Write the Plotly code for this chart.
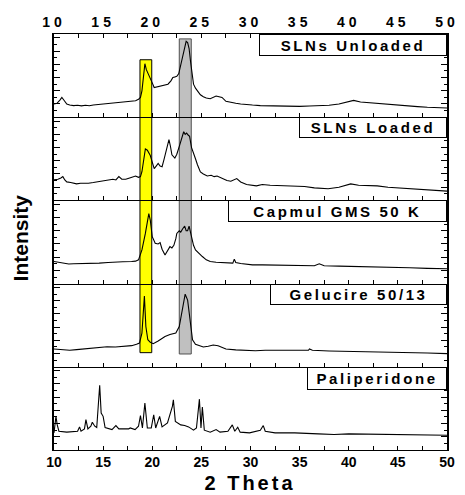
import plotly.graph_objects as go
from plotly.subplots import make_subplots

# ---------------- data ----------------
series_names = ["SLNs Unloaded", "SLNs Loaded", "Capmul GMS 50 K", "Gelucire 50/13", "Paliperidone"]

slns_unloaded = [
    (10.0, 1.0), (10.3, 1.05), (10.6, 1.3), (10.8, 1.5), (11.0, 1.3), (11.3, 1.0), (11.6, 0.92),
    (12.0, 0.88), (12.4, 0.9), (12.8, 0.86), (13.2, 0.9), (13.6, 0.87), (14.0, 0.92), (14.4, 0.95),
    (14.8, 0.97), (15.2, 1.0), (15.6, 1.02), (16.0, 1.05), (16.4, 1.08), (16.8, 1.1), (17.2, 1.12),
    (17.6, 1.15), (18.0, 1.2), (18.3, 1.25), (18.6, 1.35), (18.8, 1.5), (18.95, 2.0), (19.1, 3.0),
    (19.25, 4.05), (19.4, 3.6), (19.6, 3.3), (19.8, 3.0), (20.0, 2.6), (20.2, 2.25), (20.5, 2.3),
    (20.9, 2.35), (21.3, 2.45), (21.6, 2.5), (21.9, 2.75), (22.1, 3.0), (22.3, 3.05), (22.5, 3.1),
    (22.7, 3.3), (22.9, 3.9), (23.1, 4.7), (23.3, 5.3), (23.45, 5.75), (23.6, 5.65), (23.75, 5.2),
    (23.9, 4.2), (24.05, 3.3), (24.2, 2.5), (24.4, 2.2), (24.6, 2.0), (24.9, 1.7), (25.2, 1.55),
    (25.5, 1.45), (25.9, 1.4), (26.2, 1.5), (26.5, 1.6), (26.8, 1.55), (27.1, 1.5), (27.5, 1.2),
    (28.0, 1.1), (28.5, 1.05), (29.0, 1.0), (29.5, 0.95), (30.2, 0.92), (31.0, 0.88), (32.0, 0.86),
    (33.0, 0.85), (34.0, 0.8), (35.0, 0.82), (36.0, 0.85), (37.0, 0.88), (38.0, 0.9), (39.0, 1.0),
    (40.0, 1.15), (40.5, 1.27), (41.2, 1.15), (42.0, 1.1), (43.0, 1.0), (44.0, 0.95), (45.0, 0.88),
    (46.0, 0.85), (47.0, 0.8), (48.0, 0.75), (49.0, 0.75), (50.0, 0.7),
]

slns_loaded = [
    (10.0, 1.55), (10.4, 1.6), (10.7, 1.7), (10.9, 1.8), (11.1, 1.55), (11.3, 1.4), (11.7, 1.35),
    (12.0, 1.3), (12.3, 1.25), (12.7, 1.3), (13.0, 1.28), (13.5, 1.3), (14.0, 1.35), (14.5, 1.4),
    (15.0, 1.45), (15.3, 1.5), (15.6, 1.55), (16.0, 1.6), (16.3, 1.55), (16.6, 1.8), (16.9, 1.6),
    (17.3, 1.6), (17.7, 1.7), (18.0, 1.75), (18.3, 1.85), (18.6, 1.75), (18.8, 1.8), (18.95, 2.17),
    (19.1, 3.0), (19.3, 3.9), (19.5, 3.8), (19.8, 3.4), (20.0, 2.9), (20.2, 2.4), (20.4, 2.6),
    (20.6, 2.8), (20.8, 2.6), (21.0, 2.55), (21.2, 3.1), (21.4, 3.7), (21.7, 4.6), (21.85, 4.1),
    (22.0, 3.45), (22.3, 3.2), (22.5, 3.5), (22.8, 4.2), (23.0, 4.7), (23.2, 5.2), (23.35, 5.0),
    (23.5, 5.1), (23.65, 4.95), (23.8, 4.85), (24.0, 4.0), (24.2, 3.5), (24.4, 3.15), (24.6, 2.7),
    (24.9, 2.15), (25.2, 2.0), (25.6, 1.85), (26.0, 1.9), (26.3, 1.8), (26.6, 1.85), (27.0, 1.7),
    (27.6, 1.5), (28.0, 1.45), (28.6, 1.65), (29.0, 1.4), (29.6, 1.2), (30.6, 1.1), (31.2, 1.2),
    (32.0, 1.15), (33.0, 1.12), (34.5, 1.1), (35.5, 1.05), (36.5, 0.95), (37.9, 0.88), (39.0, 1.0),
    (40.2, 1.25), (41.0, 1.15), (42.0, 1.12), (42.9, 1.1), (44.0, 1.0), (45.0, 0.95), (46.2, 0.88),
    (47.0, 0.85), (48.0, 0.8), (49.0, 0.75), (50.0, 0.7),
]

capmul = [
    (10.0, 1.67), (10.5, 1.6), (11.0, 1.5), (11.5, 1.48), (12.0, 1.5), (13.0, 1.5), (14.0, 1.52),
    (14.6, 1.55), (15.5, 1.6), (16.25, 1.65), (17.0, 1.66), (17.9, 1.67), (18.3, 1.7), (18.6, 1.8),
    (18.95, 2.55), (19.3, 3.8), (19.5, 4.8), (19.65, 5.3), (19.8, 4.8), (20.0, 3.55), (20.3, 3.05),
    (20.6, 3.0), (20.8, 3.1), (21.0, 2.6), (21.3, 2.17), (21.6, 2.5), (21.8, 2.8), (22.0, 2.7),
    (22.2, 2.9), (22.4, 3.4), (22.5, 3.8), (22.75, 4.0), (22.9, 3.9), (23.1, 4.15), (23.3, 4.35),
    (23.45, 4.0), (23.6, 4.0), (23.75, 4.35), (23.9, 3.9), (24.0, 3.45), (24.2, 2.9), (24.4, 2.55),
    (24.7, 2.3), (25.1, 2.05), (25.5, 1.8), (25.9, 1.67), (26.5, 1.62), (27.2, 1.6), (27.9, 1.55),
    (28.2, 1.55), (28.35, 1.85), (28.5, 1.6), (29.0, 1.52), (30.2, 1.42), (31.2, 1.42), (32.5, 1.4),
    (34.0, 1.38), (35.5, 1.36), (36.5, 1.35), (37.0, 1.5), (37.5, 1.35), (39.0, 1.32), (41.2, 1.3),
    (43.0, 1.25), (44.5, 1.22), (46.2, 1.2), (48.0, 1.15), (50.0, 1.12),
]

gelucire = [
    (10.0, 1.35), (10.8, 1.3), (11.6, 1.25), (12.3, 1.3), (13.0, 1.35), (13.8, 1.42), (14.6, 1.5),
    (15.4, 1.52), (16.25, 1.5), (17.0, 1.55), (17.9, 1.6), (18.4, 1.7), (18.7, 1.8), (18.95, 2.55),
    (19.1, 4.0), (19.2, 5.35), (19.35, 3.05), (19.55, 2.05), (19.8, 1.85), (20.1, 1.75), (20.6, 1.95),
    (21.0, 2.15), (21.3, 2.3), (21.8, 2.45), (22.4, 2.55), (22.75, 3.05), (22.95, 3.8), (23.1, 4.55),
    (23.35, 5.5), (23.6, 5.05), (23.85, 3.55), (24.1, 2.05), (24.4, 1.7), (24.8, 1.6), (25.2, 1.5),
    (25.7, 1.55), (26.2, 1.65), (26.7, 1.6), (27.1, 1.5), (27.5, 1.35), (28.5, 1.28), (29.5, 1.25),
    (30.5, 1.22), (31.5, 1.25), (33.0, 1.25), (35.0, 1.23), (35.9, 1.25), (36.0, 1.35), (36.3, 1.25),
    (38.0, 1.2), (40.0, 1.18), (41.2, 1.15), (43.0, 1.12), (46.2, 1.1), (48.0, 1.05), (50.0, 1.0),
]

paliperidone = [
    (10.0, 1.3), (10.2, 2.55), (10.33, 1.9), (10.5, 1.42), (11.3, 1.35), (12.4, 1.42), (12.6, 1.75),
    (12.75, 1.42), (13.1, 1.6), (13.25, 2.3), (13.45, 1.6), (13.75, 1.8), (13.9, 2.1), (14.15, 1.8),
    (14.35, 1.7), (14.65, 4.9), (14.8, 2.8), (15.0, 2.55), (15.2, 1.7), (15.9, 1.55), (16.3, 1.85),
    (16.6, 1.6), (17.6, 1.6), (17.75, 1.67), (18.25, 1.55), (18.6, 1.8), (18.8, 2.6), (19.0, 1.67),
    (19.25, 3.55), (19.5, 1.67), (19.9, 1.67), (20.15, 2.67), (20.35, 1.67), (20.6, 2.3), (20.75, 2.55),
    (21.0, 1.75), (21.55, 2.05), (22.05, 3.3), (22.15, 3.8), (22.35, 2.17), (22.9, 1.9), (23.3, 1.85),
    (23.7, 1.75), (24.2, 1.5), (24.5, 1.67), (24.8, 3.85), (24.96, 1.67), (25.1, 3.25), (25.3, 1.5),
    (25.9, 1.35), (26.5, 1.55), (26.9, 1.35), (27.7, 1.42), (28.15, 1.9), (28.4, 1.42), (28.7, 1.72),
    (28.95, 1.35), (29.9, 1.3), (31.0, 1.5), (31.3, 1.85), (31.5, 1.42), (32.5, 1.3), (34.5, 1.3),
    (36.9, 1.22), (38.5, 1.17), (40.0, 1.22), (42.0, 1.2), (44.5, 1.2), (46.0, 1.18), (48.0, 1.15),
    (50.0, 1.12),
]

series_data = [slns_unloaded, slns_loaded, capmul, gelucire, paliperidone]

x_tick_values = [10, 15, 20, 25, 30, 35, 40, 45, 50]

# highlight bands: x span, top (value in panel 1), bottom (value in panel 4)
yellow_band_x = [18.75, 19.95]
yellow_band_y = [4.35, 1.07]
grey_band_x = [22.75, 23.97]
grey_band_y = [5.93, 0.97]

# ---------------- layout constants ----------------
Y_MAX = 6.3
N = len(series_names)
label_box_w = [186, 146, 217, 175, 138]
label_box_h = [20, 19, 20, 19, 21]
FONT = "Liberation Sans, Arial, sans-serif"

fig = make_subplots(rows=N, cols=1, shared_xaxes=True, vertical_spacing=0)

for i, (name, pts) in enumerate(zip(series_names, series_data)):
    xs = [p[0] for p in pts]
    ys = [p[1] for p in pts]
    fig.add_trace(
        go.Scatter(x=xs, y=ys, mode="lines", name=name,
                   line=dict(color="black", width=1.1), showlegend=False),
        row=i + 1, col=1,
    )


def panel_to_paper(row, val):
    d0 = 1 - row / N
    return d0 + val / Y_MAX * (1 / N)


for bx, by, fill, lc in [
    (yellow_band_x, yellow_band_y, "#ffff00", "#000000"),
    (grey_band_x, grey_band_y, "#c0c0c0", "#505050"),
]:
    fig.add_shape(type="rect", xref="x", yref="paper",
                  x0=bx[0], x1=bx[1],
                  y0=panel_to_paper(4, by[1]), y1=panel_to_paper(1, by[0]),
                  fillcolor=fill, line=dict(color=lc, width=1), layer="below")

tickfont = dict(family=FONT, size=14, color="black", weight="bold")
for i in range(N):
    r = i + 1
    xa = dict(range=[10, 50], tickmode="array", tickvals=x_tick_values,
              ticks="inside", ticklen=4, tickwidth=1, tickcolor="black",
              minor=dict(dtick=2.5, tick0=10, ticks="inside", ticklen=4, tickcolor="black"),
              showline=True, linecolor="black", linewidth=1, showgrid=False, zeroline=False,
              tickfont=tickfont)
    if r == 1:
        xa.update(side="top", mirror="ticks", showticklabels=True, ticklabelstandoff=0)
    elif r == N:
        xa.update(showticklabels=True, ticklabelstandoff=-1)
    else:
        xa.update(showticklabels=False)
    fig.update_xaxes(xa, row=r, col=1)
    fig.update_yaxes(range=[0, Y_MAX], tick0=0, dtick=1, ticks="inside", ticklen=6,
                     tickcolor="black", tickwidth=1,
                     minor=dict(dtick=0.5, tick0=0, ticks="inside", ticklen=3, tickcolor="black"),
                     showline=True, linecolor="black", linewidth=2, mirror="ticks",
                     showticklabels=False, showgrid=False, zeroline=False, row=r, col=1)

annotations = []
for i, name in enumerate(series_names):
    suffix = "" if i == 0 else str(i + 1)
    annotations.append(dict(
        text=name, xref="x" + suffix + " domain", yref="y" + suffix + " domain",
        x=1, y=1, xanchor="right", yanchor="top", showarrow=False,
        width=label_box_w[i], height=label_box_h[i], align="center", valign="middle",
        bordercolor="black", borderwidth=1, borderpad=0, bgcolor="white",
        font=dict(family=FONT, size=15, color="black", weight="bold"),
    ))
annotations.append(dict(text="Intensity", xref="paper", yref="paper", x=-0.085, y=0.51,
                        xanchor="center", yanchor="middle", textangle=-90, showarrow=False,
                        font=dict(family=FONT, size=21, color="black", weight="bold")))
annotations.append(dict(text="2 Theta", xref="paper", yref="paper", x=0.5, y=-0.079,
                        xanchor="center", yanchor="middle", showarrow=False,
                        font=dict(family=FONT, size=20, color="black", weight="bold")))

fig.update_layout(
    width=465, height=495,
    margin=dict(l=54, r=10, t=34, b=45),
    paper_bgcolor="white", plot_bgcolor="rgba(0,0,0,0)",
    annotations=annotations,
    showlegend=False,
)

post = """
document.documentElement.style.margin = '0';
document.body.style.margin = '0';
document.body.style.padding = '0';
var st = document.createElement('style');
st.textContent = 'html,body{margin:0 !important;padding:0 !important;overflow:hidden;} '
 + '.xtick text{letter-spacing:4px !important;} '
 + '.annotation-text{letter-spacing:2.6px !important;} '
 + '.annotation[data-index="5"] .annotation-text{letter-spacing:0px !important;} '
 + '.annotation[data-index="6"] .annotation-text{letter-spacing:3px !important;}';
document.head.appendChild(st);
"""
fig.write_html("out.html", post_script=post, config={"displayModeBar": False})
